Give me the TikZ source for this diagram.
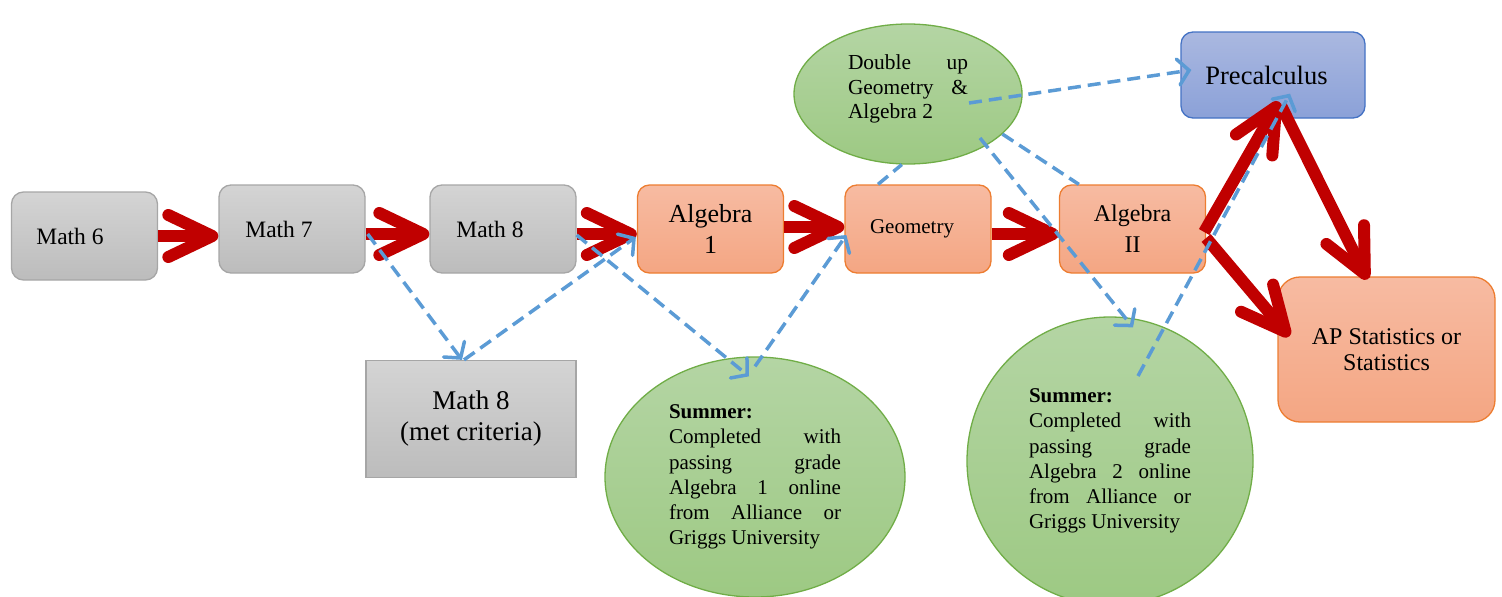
\documentclass[tikz,border=0pt]{standalone}
\usepackage{fontspec}
\setmainfont{Liberation Serif}
\usetikzlibrary{arrows.meta,shapes.geometric,calc}
\definecolor{redA}{HTML}{C00000}
\definecolor{blueA}{HTML}{5B9BD5}
\definecolor{grayT}{HTML}{D4D4D4}
\definecolor{grayB}{HTML}{BCBCBC}
\definecolor{grayL}{HTML}{A6A6A6}
\definecolor{orT}{HTML}{F7BBA2}
\definecolor{orB}{HTML}{F4A683}
\definecolor{orL}{HTML}{ED7D31}
\definecolor{blT}{HTML}{AAB8E0}
\definecolor{blB}{HTML}{8BA1D8}
\definecolor{blL}{HTML}{4472C4}
\definecolor{grT}{HTML}{B4D5A4}
\definecolor{grB}{HTML}{9DC983}
\definecolor{grL}{HTML}{70AD47}
\begin{document}
\begin{tikzpicture}[x=1pt,y=-1pt,
 box/.style={rectangle, rounded corners=12pt, minimum width=146pt, minimum height=88pt, line width=1.3pt, inner sep=0pt},
 graybox/.style={box, draw=grayL, top color=grayT, bottom color=grayB},
 orbox/.style={box, draw=orL, top color=orT, bottom color=orB},
 bubble/.style={ellipse, draw=grL, line width=1.3pt, top color=grT, bottom color=grB, inner sep=0pt},
 redarr/.style={draw=redA, line width=12pt, -{Straight Barb[length=44pt,width=42pt,line cap=round,line join=round]}},
 bluearr/.style={draw=blueA, line width=3.5pt, dash pattern=on 13pt off 7pt, -{Straight Barb[length=11pt,width=26pt,line cap=round]}},
 blueline/.style={draw=blueA, line width=3.5pt, dash pattern=on 13pt off 7pt},
 t24/.style={font=\fontsize{23.5}{28}\selectfont},
 sumtxt/.style={font=\fontsize{21}{25.2}\selectfont, align=left}
]
\useasboundingbox (0,0) rectangle (1502,597);

% nodes
\node[graybox, t24] (m6) at (84.5,236) {Math 6\hspace*{29pt}};
\node[graybox, t24] (m7) at (292,229) {Math 7\hspace*{26pt}};
\node[graybox, t24] (m8) at (503,229) {Math 8\hspace*{26pt}};
\node[orbox, font=\fontsize{26}{31}\selectfont, align=center] (a1) at (710.5,229) {Algebra\\1};
\node[orbox, font=\fontsize{21}{25}\selectfont] (geo) at (918,229) {Geometry\hspace*{12pt}};
\node[orbox, font=\fontsize{24}{31}\selectfont, align=center] (a2) at (1132.5,229) {Algebra\\II};
\node[box, draw=blL, top color=blT, bottom color=blB, minimum width=184pt, minimum height=86pt, font=\fontsize{26.5}{31}\selectfont] (pre) at (1273,75) {Precalculus\hspace*{13pt}};
\node[box, draw=orL, top color=orT, bottom color=orB, minimum width=217pt, minimum height=145pt, rounded corners=22pt, font=\fontsize{24}{26}\selectfont, align=center] (ap) at (1386.5,349.5) {AP Statistics or\\Statistics};
\node[rectangle, draw=grayL, top color=grayT, bottom color=grayB, minimum width=210pt, minimum height=117pt, line width=1.3pt, font=\fontsize{27}{31}\selectfont, align=center] (m8c) at (471,419) {Math 8\\(met criteria)};

\node[bubble, minimum width=228pt, minimum height=140pt] (dbl) at (908,94) {};
\node[font=\fontsize{21.4}{24.5}\selectfont, align=left, inner sep=0pt] (dbltxt) at (908,89) {\makebox[120pt][s]{Double up}\\\makebox[120pt][s]{Geometry \&}\\Algebra 2};

\node[bubble, sumtxt, minimum width=300pt, minimum height=240pt] (s1) at (755,477) {\textbf{Summer:}\\\makebox[172pt][s]{Completed with}\\\makebox[172pt][s]{passing grade}\\\makebox[172pt][s]{Algebra 1 online}\\\makebox[172pt][s]{from Alliance or}\\Griggs University};
\node[bubble, sumtxt, minimum width=286pt, minimum height=288pt] (s2) at (1110,461) {\textbf{Summer:}\\\makebox[162pt][s]{Completed with}\\\makebox[162pt][s]{passing grade}\\\makebox[162pt][s]{Algebra 2 online}\\\makebox[162pt][s]{from Alliance or}\\Griggs University};

% red arrows
\draw[redarr] (m6.east) -- (m6.east -| m7.west);
\draw[redarr] ($(m7.east)+(0,5)$) -- ($(m8.west)+(0,5)$);
\draw[redarr] ($(m8.east)+(0,5)$) -- ($(a1.west)+(0,5)$);
\draw[redarr] ($(a1.east)+(0,-2)$) -- ($(geo.west)+(0,-2)$);
\draw[redarr] ($(geo.east)+(0,5)$) -- ($(a2.west)+(0,5)$);
\draw[redarr] ($(a2.east)+(-2,3)$) -- ($(pre.south)+(6,-17)$);
\draw[redarr] ($(a2.east)+(0,9)$) -- ($(ap.north west)+(12,60)$);
\draw[redarr] ($(pre.south)+(8,-13)$) -- ($(ap.north)+(-19,3)$);

% blue dashed
\draw[bluearr] ($(m7.east)+(2,5)$) -- ($(m8c.north)+(-9,0)$);
\draw[bluearr] ($(m8c.north)+(-7,0)$) -- ($(a1.west)+(-1,8)$);
\draw[bluearr] ($(m8.east)+(0,6)$) -- ($(s1.north)+(-6,20)$);
\draw[bluearr] ($(s1.north)+(0,10)$) -- ($(geo.west)+(2,6)$);
\draw[bluearr] ($(dbl.center)+(61,9)$) -- ($(pre.west)+(11,-5)$);
\draw[blueline] ($(geo.north)+(-40,0)$) -- (dbl.265);
\draw[blueline] (dbl.337) -- ($(a2.north west)+(20,0)$);
\draw[bluearr] ($(dbl.center)+(72,44)$) -- ($(s2.north)+(23,11)$);
\draw[bluearr] ($(s2.center)+(28,-85)$) -- ($(pre.south)+(17,-25)$);
\end{tikzpicture}
\end{document}
